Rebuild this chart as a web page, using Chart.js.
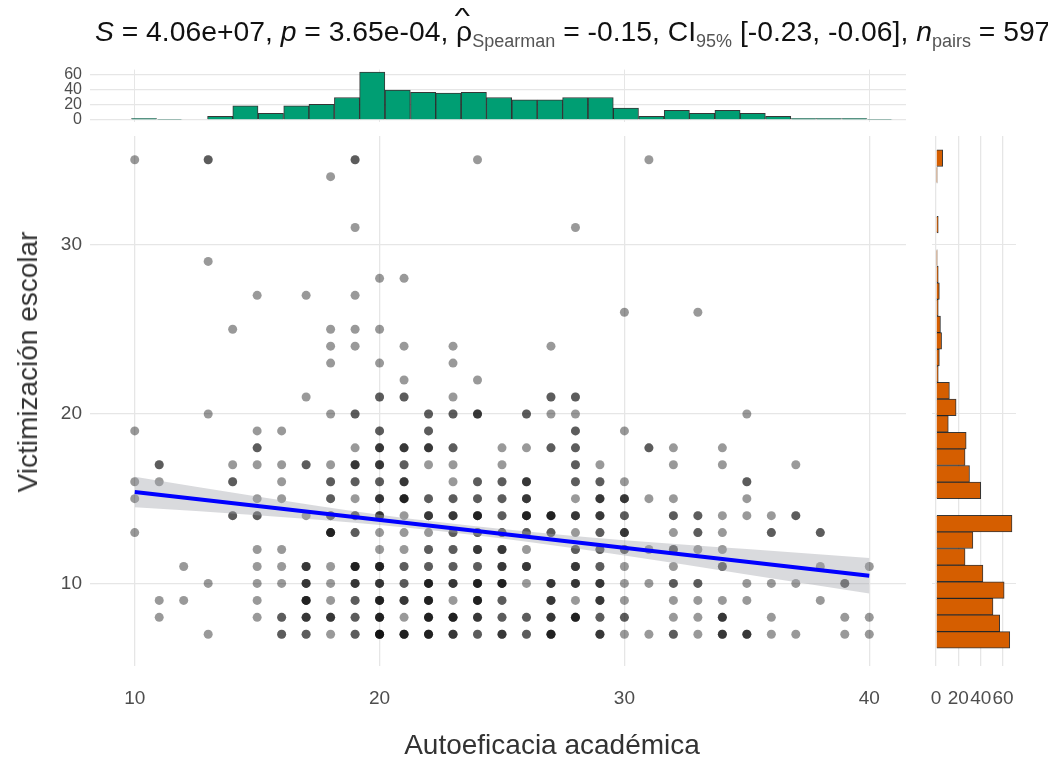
<!DOCTYPE html>
<html>
<head>
<meta charset="utf-8">
<script src="https://cdn.jsdelivr.net/npm/chart.js@4.4.1/dist/chart.umd.min.js"></script>
<style>
  html, body { margin:0; padding:0; background:#fff; width:1048px; height:758px; overflow:hidden; }
  .layer { position:absolute; left:0; top:0; width:1048px; height:758px; }
  .layer canvas { position:absolute; left:0; top:0; }
  #title { position:absolute; left:95px; top:14px; white-space:nowrap; font-family:'Liberation Sans', Arial, sans-serif; font-size:28.3px; line-height:34px; color:#111; }
  #title sub { font-size:18px; color:#555; vertical-align:-6px; line-height:0; }
  .hat { position:relative; display:inline-block; }
  .hat .h { position:absolute; left:1px; top:-9px; font-size:22px; line-height:22px; transform:scaleX(1.5); }
  #xtitle { position:absolute; left:552px; top:745px; transform:translate(-50%,-50%); white-space:nowrap; font-family:'Liberation Sans', Arial, sans-serif; font-size:28px; color:#333; }
  #ytitle { position:absolute; left:28px; top:362px; transform:translate(-50%,-50%) rotate(-90deg); white-space:nowrap; font-family:'Liberation Sans', Arial, sans-serif; font-size:28px; color:#333; }
</style>
</head>
<body>
<div class="layer"><canvas id="main" width="1048" height="758"></canvas></div>
<div class="layer"><canvas id="top" width="1048" height="758"></canvas></div>
<div class="layer"><canvas id="right" width="1048" height="758"></canvas></div>
<div id="title"><i>S</i> = 4.06e+07, <i>p</i> = 3.65e-04, <span class="hat">ρ<span class="h">^</span></span><sub>Spearman</sub> = -0.15, CI<sub>95%</sub> [-0.23, -0.06], <i>n</i><sub>pairs</sub> = 597</div>
<div id="xtitle">Autoeficacia académica</div>
<div id="ytitle">Victimización escolar</div>
<script>
// ---- tick labels ----
const xTicks = [10, 20, 30, 40];
const yTicks = [10, 20, 30];
const topCountTicks = [0, 20, 40, 60];
const rightCountTicks = [0, 20, 40, 60];

// ---- scatter cells: x, y, number of overlapping observations ----
const pointX = [10,13,19,24,31, 18, 19,28, 13, 20,21, 15,17,19, 30,33, 14,18,19,20, 18,19,21,23,27, 18,20,23, 21,24,
  17,20,21,23,27,28,
  13,18,19,22,23,24,26,27,28,35,
  10,15,16,20,22,28,30,
  15,19,20,21,22,23,25,26,27,28,31,32,34,
  11,14,15,16,17,18,19,20,21,22,23,25,28,29,32,34,37,
  10,11,14,16,18,19,20,21,23,24,25,26,28,29,30,35,
  10,15,16,18,19,20,21,22,23,24,25,26,28,29,30,31,32,35,
  14,15,17,18,19,20,21,22,23,24,25,26,27,28,29,30,32,33,34,35,36,37,
  10,18,19,20,21,22,23,24,25,26,27,28,29,30,32,33,34,36,38,
  15,16,20,21,22,23,24,25,26,28,29,30,31,32,33,34,
  12,15,16,17,18,19,20,21,22,23,24,25,26,28,29,30,32,34,38,40,
  13,15,16,17,18,19,20,21,22,23,24,25,26,27,28,29,30,31,32,33,35,36,37,39,
  11,12,15,17,18,19,20,21,22,23,24,25,27,28,29,30,32,33,34,35,38,
  11,15,16,17,18,19,20,21,22,23,24,25,26,27,28,29,30,32,33,34,36,39,40,
  13,16,17,18,19,20,21,22,23,24,25,26,27,29,30,31,32,33,34,35,36,37,39,40];
const pointY = [35,35,35,35,35, 34, 31,31, 29, 28,28, 27,27,27, 26,26, 25,25,25,25, 24,24,24,24,24, 23,23,23, 22,22,
  21,21,21,21,21,21,
  20,20,20,20,20,20,20,20,20,20,
  19,19,19,19,19,19,19,
  18,18,18,18,18,18,18,18,18,18,18,18,18,
  17,17,17,17,17,17,17,17,17,17,17,17,17,17,17,17,17,
  16,16,16,16,16,16,16,16,16,16,16,16,16,16,16,16,
  15,15,15,15,15,15,15,15,15,15,15,15,15,15,15,15,15,15,
  14,14,14,14,14,14,14,14,14,14,14,14,14,14,14,14,14,14,14,14,14,14,
  13,13,13,13,13,13,13,13,13,13,13,13,13,13,13,13,13,13,13,
  12,12,12,12,12,12,12,12,12,12,12,12,12,12,12,12,
  11,11,11,11,11,11,11,11,11,11,11,11,11,11,11,11,11,11,11,11,
  10,10,10,10,10,10,10,10,10,10,10,10,10,10,10,10,10,10,10,10,10,10,10,10,
  9,9,9,9,9,9,9,9,9,9,9,9,9,9,9,9,9,9,9,9,9,
  8,8,8,8,8,8,8,8,8,8,8,8,8,8,8,8,8,8,8,8,8,8,8,
  7,7,7,7,7,7,7,7,7,7,7,7,7,7,7,7,7,7,7,7,7,7,7,7];
const pointN = [1,2,2,1,1, 1, 1,1, 1, 1,1, 1,1,1, 1,1, 1,1,1,1, 1,1,1,1,1, 1,1,1, 1,1,
  1,2,2,1,2,2,
  1,1,2,2,2,3,2,1,1,1,
  1,1,1,2,2,2,1,
  2,1,3,3,3,2,1,1,2,2,2,1,1,
  2,1,1,1,2,1,3,3,2,1,1,1,2,1,1,1,1,
  1,1,2,1,2,2,2,3,1,2,2,3,2,2,1,2,
  1,1,1,2,1,3,4,2,2,2,2,3,1,3,3,1,1,1,
  2,2,1,2,2,3,1,3,3,4,2,4,4,3,3,2,2,2,1,1,1,2,
  1,4,2,1,1,1,2,2,2,2,2,1,2,3,1,2,1,2,2,
  1,1,1,1,2,2,3,3,1,2,2,2,1,2,1,1,
  1,1,1,3,1,4,4,2,2,2,2,3,3,3,2,1,1,2,1,1,
  1,1,1,3,1,3,3,2,4,3,4,4,1,3,3,3,1,1,2,2,1,1,1,2,
  1,1,1,4,1,2,4,3,4,1,4,2,3,1,3,1,1,1,1,1,1,
  1,1,2,3,3,2,4,1,4,4,3,2,2,3,4,2,2,1,1,3,1,1,1,
  1,2,2,1,2,5,4,4,3,2,3,2,4,3,1,1,2,1,3,3,1,1,1,1];

// ---- linear fit and 95% band ----
const fitX = [10, 40];
const fitY = [15.4, 10.45];
const ciX = [10, 15, 20, 25, 30, 35, 40];
const ciLow = [14.5, 14.03, 13.45, 12.65, 11.65, 10.53, 9.4];
const ciHigh = [16.3, 15.13, 14.05, 13.21, 12.55, 12.03, 11.5];

// ---- marginal histograms ----
const topBinX = [10.38,11.42,12.45,13.49,14.52,15.56,16.6,17.63,18.67,19.7,20.74,21.78,22.81,23.85,24.88,
  25.92,26.96,27.99,29.03,30.06,31.1,32.14,33.17,34.21,35.24,36.28,37.32,38.35,39.39,40.42];
const topCount = [2,1,0,5,19,9,19,21,30,64,40,37,36,37,30,27,27,30,30,16,5,13,9,13,9,5,2,2,2,1];
const rightBinY = [6.67,7.65,8.63,9.61,10.59,11.57,12.55,13.53,14.51,15.49,16.47,17.45,18.43,19.41,20.39,
  21.37,22.35,23.33,24.31,25.29,26.27,27.25,28.23,29.21,30.19,31.17,32.15,33.13,34.11,35.09];
const rightCount = [66,57,51,61,42,26,33,68,0,40,30,26,27,11,18,12,2,3,5,4,2,3,2,1,0,2,0,0,1,6];

// ---- build ----
const FONT = "'Liberation Sans', Arial, sans-serif";
const GRID = '#e6e6e6';
const TICKC = '#4d4d4d';
const tickFont = { family: FONT, size: 19 };
const fixTicks = arr => (axis) => { axis.ticks = arr.map(v => ({ value: v })); };

const pts = [];
pointX.forEach((x, i) => { for (let k = 0; k < pointN[i]; k++) pts.push({ x: x, y: pointY[i] }); });

Chart.defaults.animation = false;
Chart.defaults.font.family = FONT;

new Chart(document.getElementById('main'), {
  type: 'scatter',
  data: {
    datasets: [
      { data: pts, pointRadius: 4.5, pointBackgroundColor: 'rgba(0,0,0,0.4)', pointBorderWidth: 0, order: 3 },
      { data: ciX.map((x, i) => ({ x: x, y: ciLow[i] })), showLine: true, pointRadius: 0, borderWidth: 0,
        borderColor: 'rgba(0,0,0,0)', fill: false, cubicInterpolationMode: 'monotone', order: 2 },
      { data: ciX.map((x, i) => ({ x: x, y: ciHigh[i] })), showLine: true, pointRadius: 0, borderWidth: 0,
        borderColor: 'rgba(0,0,0,0)', backgroundColor: 'rgba(160,163,170,0.4)', fill: '-1',
        cubicInterpolationMode: 'monotone', order: 1 },
      { data: fitX.map((x, i) => ({ x: x, y: fitY[i] })), showLine: true, pointRadius: 0, borderWidth: 4,
        borderColor: '#0000ff', order: 0 }
    ]
  },
  options: {
    responsive: false, devicePixelRatio: 1,
    layout: { padding: { left: 0, top: 136, right: 142, bottom: 0 } },
    plugins: { legend: { display: false }, tooltip: { enabled: false } },
    scales: {
      x: { type: 'linear', min: 8.5, max: 41.5, afterBuildTicks: fixTicks(xTicks),
        afterFit: s => { s.height = 100; },
        grid: { color: GRID, lineWidth: 1.3, tickLength: 8 }, border: { display: false },
        ticks: { color: TICKC, font: tickFont, padding: 21, maxRotation: 0 } },
      y: { type: 'linear', min: 5.6, max: 36.4, afterBuildTicks: fixTicks(yTicks),
        afterFit: s => { s.width = 98; },
        grid: { color: GRID, lineWidth: 1.3, tickLength: 8 }, border: { display: false },
        ticks: { color: TICKC, font: tickFont, padding: 8 } }
    }
  }
});

new Chart(document.getElementById('top'), {
  type: 'bar',
  data: { datasets: [{ data: topBinX.map((x, i) => ({ x: x, y: topCount[i] })),
    backgroundColor: '#009E73', borderColor: 'rgba(20,20,20,0.85)', borderWidth: 1,
    barPercentage: 1, categoryPercentage: 1 }] },
  options: {
    responsive: false, devicePixelRatio: 1,
    layout: { padding: { left: 0, top: 69.6, right: 142, bottom: 635.6 } },
    plugins: { legend: { display: false }, tooltip: { enabled: false } },
    scales: {
      x: { type: 'linear', offset: false, min: 8.5, max: 41.5, afterBuildTicks: fixTicks(xTicks),
        afterFit: s => { s.height = 0; },
        grid: { color: GRID, lineWidth: 1, drawTicks: false, offset: false }, border: { display: false },
        ticks: { display: false } },
      y: { type: 'linear', min: -3.2, max: 67.2, afterBuildTicks: fixTicks(topCountTicks),
        afterFit: s => { s.width = 98; },
        grid: { color: GRID, lineWidth: 1.3, tickLength: 8 }, border: { display: false },
        ticks: { color: TICKC, font: { family: FONT, size: 16 }, padding: 8, autoSkip: false } }
    }
  }
});

new Chart(document.getElementById('right'), {
  type: 'bar',
  data: { datasets: [{ data: rightBinY.map((y, i) => ({ x: rightCount[i], y: y })),
    backgroundColor: '#D55E00', borderColor: 'rgba(20,20,20,0.85)', borderWidth: 1,
    barPercentage: 1, categoryPercentage: 1 }] },
  options: {
    indexAxis: 'y',
    responsive: false, devicePixelRatio: 1,
    layout: { padding: { left: 932, top: 136, right: 32, bottom: 0 } },
    plugins: { legend: { display: false }, tooltip: { enabled: false } },
    scales: {
      x: { type: 'linear', min: -3.58, max: 71.6, afterBuildTicks: fixTicks(rightCountTicks),
        afterFit: s => { s.height = 100; },
        grid: { color: GRID, lineWidth: 1.3, tickLength: 8 }, border: { display: false },
        ticks: { color: TICKC, font: tickFont, padding: 21, maxRotation: 0, autoSkip: false } },
      y: { type: 'linear', offset: false, min: 5.6, max: 36.4, afterBuildTicks: fixTicks(yTicks),
        afterFit: s => { s.width = 0; },
        grid: { color: GRID, lineWidth: 1, drawTicks: false, offset: false }, border: { display: false },
        ticks: { display: false } }
    }
  }
});
</script>
</body>
</html>
